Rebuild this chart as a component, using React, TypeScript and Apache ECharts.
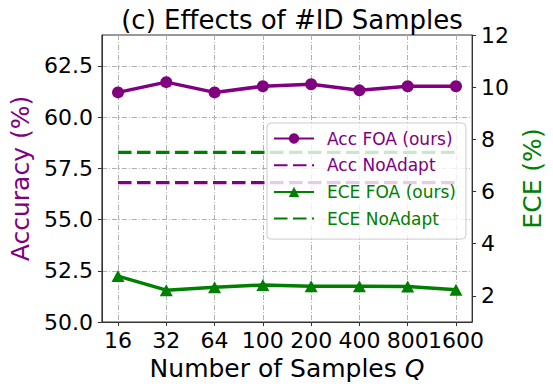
import React, { useEffect, useRef } from "react";
import * as echarts from "echarts";

const categories = ["16", "32", "64", "100", "200", "400", "800", "1600"];
const accFOA = [61.2, 61.7, 61.2, 61.5, 61.6, 61.3, 61.5, 61.5];
const eceFOA = [2.76, 2.22, 2.33, 2.42, 2.37, 2.37, 2.36, 2.24];
const accNoAdapt = 56.8;
const eceNoAdapt = 7.5;
const accTicks = [50, 52.5, 55, 57.5, 60, 62.5];
const eceTicks = [2, 4, 6, 8, 10, 12];
const xTicks = [0, 1, 2, 3, 4, 5, 6, 7];

const PURPLE = "#800080";
const GREEN = "#008000";
const FONT = "DejaVu Sans";

export default function App() {
  const ref = useRef<HTMLDivElement>(null);
  useEffect(() => {
    if (!ref.current) return;
    const chart = echarts.init(ref.current, null, { renderer: "svg" });
    const last = categories.length - 1;
    const gridLine = { show: true, lineStyle: { color: "#b0b0b0", width: 1, type: [5, 2, 1, 2] } };
    const xLabelBase = {
      showMinLabel: true,
      showMaxLabel: true,
      hideOverlap: false,
      margin: 7,
      fontFamily: FONT,
      fontSize: 22,
      color: "#000",
      formatter: (v: number) => categories[Math.round(v)] ?? "",
    };
    chart.setOption({
      animation: false,
      title: {
        text: "(c) Effects of #ID Samples",
        left: 287,
        textAlign: "center",
        top: 2,
        textStyle: { fontFamily: FONT, fontSize: 26, fontWeight: "normal", color: "#000" },
      },
      grid: {
        left: 97,
        right: 75,
        top: 35,
        bottom: 69,
        show: true,
        borderColor: "#333",
        borderWidth: 1,
        backgroundColor: "transparent",
      },
      legend: {
        orient: "vertical",
        left: 267,
        top: 123,
        itemWidth: 40,
        itemHeight: 13,
        itemGap: 9.7,
        padding: [7, 10, 12, 6],
        backgroundColor: "rgba(255,255,255,0.8)",
        borderColor: "#cccccc",
        borderWidth: 1,
        borderRadius: 4,
        textStyle: { fontFamily: FONT, fontSize: 17, lineHeight: 17, padding: [0, 0, 0, 8] },
        data: [
          { name: "Acc FOA (ours)", textStyle: { color: PURPLE } },
          { name: "Acc NoAdapt", textStyle: { color: PURPLE }, itemStyle: { opacity: 0 } },
          { name: "ECE FOA (ours)", textStyle: { color: GREEN } },
          { name: "ECE NoAdapt", textStyle: { color: GREEN }, itemStyle: { opacity: 0 } },
        ],
      },
      xAxis: [
        {
          type: "value",
          min: -0.334,
          max: last + 0.334,
          name: "Number of Samples {i|Q}",
          nameLocation: "middle",
          nameGap: 31,
          nameTextStyle: {
            fontFamily: FONT,
            fontSize: 25,
            color: "#000",
            rich: { i: { fontFamily: FONT, fontSize: 25, fontStyle: "italic", color: "#000" } },
          },
          axisLine: { show: true, onZero: false, lineStyle: { color: "#333", width: 1 } },
          axisTick: { show: true, length: 4, lineStyle: { color: "#333" }, customValues: xTicks },
          axisLabel: { ...xLabelBase, customValues: xTicks.slice(0, last) },
          splitLine: gridLine,
        },
        {
          type: "value",
          min: -0.334,
          max: last + 0.334,
          position: "bottom",
          axisLine: { show: false, onZero: false },
          axisTick: { show: false },
          axisLabel: { ...xLabelBase, customValues: [xTicks[last]] },
          splitLine: { show: false },
        },
      ],
      yAxis: [
        {
          type: "value",
          min: 50,
          max: 64,
          position: "left",
          name: "Accuracy (%)",
          nameLocation: "middle",
          nameRotate: 90,
          nameGap: 64,
          nameTextStyle: { fontFamily: FONT, fontSize: 25, color: PURPLE },
          axisLine: { show: true, onZero: false, lineStyle: { color: "#333", width: 1 } },
          axisTick: { show: true, length: 4, lineStyle: { color: "#333" }, customValues: accTicks },
          axisLabel: {
            customValues: accTicks,
            margin: 9,
            fontFamily: FONT,
            fontSize: 22,
            color: "#000",
            formatter: (v: number) => v.toFixed(1),
          },
          splitLine: gridLine,
        },
        {
          type: "value",
          min: 1,
          max: 12,
          position: "right",
          name: "ECE (%)",
          nameLocation: "middle",
          nameRotate: 90,
          nameGap: 42,
          nameTextStyle: { fontFamily: FONT, fontSize: 25, color: GREEN },
          axisLine: { show: true, onZero: false, lineStyle: { color: "#333", width: 1 } },
          axisTick: { show: true, length: 4, lineStyle: { color: "#333" }, customValues: eceTicks },
          axisLabel: {
            customValues: eceTicks,
            margin: 9,
            fontFamily: FONT,
            fontSize: 22,
            color: "#000",
            formatter: (v: number) => String(v),
          },
          splitLine: { show: false },
        },
      ],
      series: [
        {
          name: "Acc FOA (ours)",
          type: "line",
          yAxisIndex: 0,
          data: accFOA.map((v, i) => [i, v]),
          symbol: "circle",
          symbolSize: 12,
          lineStyle: { color: PURPLE, width: 3.5 },
          itemStyle: { color: PURPLE },
          z: 3,
        },
        {
          name: "Acc NoAdapt",
          type: "line",
          yAxisIndex: 0,
          data: [
            [0, accNoAdapt],
            [last, accNoAdapt],
          ],
          symbol: "none",
          lineStyle: { color: PURPLE, width: 3.2, type: [13.5, 5.5] },
          itemStyle: { color: PURPLE },
          z: 2,
        },
        {
          name: "ECE FOA (ours)",
          type: "line",
          yAxisIndex: 1,
          data: eceFOA.map((v, i) => [i, v]),
          symbol: "triangle",
          symbolSize: [13, 12],
          lineStyle: { color: GREEN, width: 3.5 },
          itemStyle: { color: GREEN },
          z: 3,
        },
        {
          name: "ECE NoAdapt",
          type: "line",
          yAxisIndex: 1,
          data: [
            [0, eceNoAdapt],
            [last, eceNoAdapt],
          ],
          symbol: "none",
          lineStyle: { color: GREEN, width: 3.2, type: [13.5, 5.5] },
          itemStyle: { color: GREEN },
          z: 2,
        },
      ],
    });
    return () => chart.dispose();
  }, []);
  return (
    <div
      ref={ref}
      style={{ position: "fixed", left: 0, top: 0, width: 553, height: 391, background: "#fff" }}
    />
  );
}
